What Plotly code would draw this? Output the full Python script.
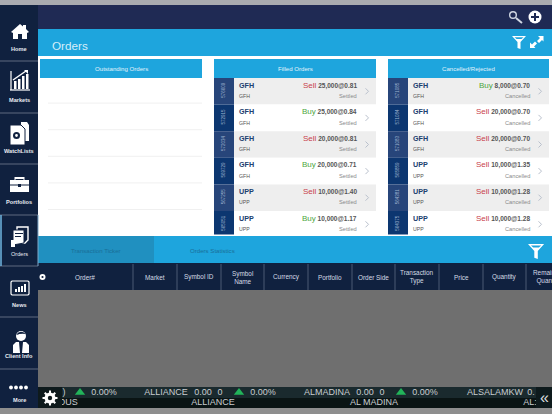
#!/bin/python3
import plotly.graph_objects as go

FONT = "Liberation Sans"

# sidebar
nav_labels = ["Home", "Markets", "WatchLists", "Portfolios", "Orders", "News", "Client Info", "More"]
nav_dividers = [61, 113, 164, 215, 266, 317, 369]
nav_label_y = [49, 100, 151, 202, 254, 305, 356, 400]

# order lists
filled_ids = ["576609", "572915", "572034", "569729", "567255", "565051"]
filled_symbols = ["GFH", "GFH", "GFH", "GFH", "UPP", "UPP"]
filled_sides = ["Sell", "Buy", "Sell", "Buy", "Sell", "Buy"]
filled_deals = ["25,000@0.81", "25,000@0.84", "20,000@0.81", "20,000@0.71", "10,000@1.40", "10,000@1.17"]

cancelled_ids = ["571085", "571084", "571083", "565859", "564381", "564375"]
cancelled_symbols = ["GFH", "GFH", "GFH", "UPP", "UPP", "UPP"]
cancelled_sides = ["Buy", "Sell", "Sell", "Sell", "Sell", "Sell"]
cancelled_deals = ["8,000@0.70", "20,000@0.70", "20,000@0.70", "10,000@1.35", "10,000@1.28", "10,000@1.28"]

# table header
columns = ["Order#", "Market", "Symbol ID", "Symbol<br>Name", "Currency", "Portfolio",
           "Order Side", "Transaction<br>Type", "Price", "Quantity", "Remaining<br>Quantity"]
column_edges = [38, 133, 177, 221, 264, 308, 352, 395, 439, 483, 526, 570]

# ticker
ticker_top = [(64, ")"), (104, "0.00%"), (166, "ALLIANCE"), (203, "0.00"), (220, "0"), (263, "0.00%"),
              (327, "ALMADINA"), (365, "0.00"), (382, "0"), (425, "0.00%"), (495, "ALSALAMKW"), (531, "0.")]
ticker_bottom = [(68, "OUS"), (213, "ALLIANCE"), (374, "AL MADINA"), (530, "AL:")]
ticker_arrows = [80, 239, 401]

NAVY = "#10213f"
BLUE = "#1ea5dd"
CLEAR = "rgba(0,0,0,0)"
ROW_TOP = 78
ROW_H = 26.6

shapes = []
annotations = []


def rect(x0, y0, x1, y1, color, layer="below"):
    shapes.append(dict(type="rect", x0=x0, y0=y0, x1=x1, y1=y1, fillcolor=color,
                       line_width=0, layer=layer))


def line(x0, y0, x1, y1, color, width=1, layer="below"):
    shapes.append(dict(type="line", x0=x0, y0=y0, x1=x1, y1=y1, layer=layer,
                       line=dict(color=color, width=width)))


def path(d, fill="#ffffff", stroke=None, width=0, layer="below"):
    shapes.append(dict(type="path", path=d, fillcolor=fill, layer=layer,
                       line=dict(color=stroke or CLEAR, width=width)))


def poly(ox, oy, pts, **kw):
    d = "M" + " L".join(f"{ox + a:.1f},{oy + b:.1f}" for a, b in pts) + " Z"
    path(d, **kw)


def circle(cx, cy, r, color, layer="below"):
    shapes.append(dict(type="circle", x0=cx - r, y0=cy - r, x1=cx + r, y1=cy + r,
                       fillcolor=color, line_width=0, layer=layer))


def text(x, y, s, size=7, color="#ffffff", anchor="center", angle=0, weight=None):
    font = dict(family=FONT, size=size, color=color)
    if weight:
        font["weight"] = weight
    annotations.append(dict(x=x, y=y, text=s, showarrow=False, xanchor=anchor, yanchor="middle",
                            textangle=angle, align="center", font=font))


# page bands
rect(0, 0, 552, 414, "#ffffff")
rect(0, 0, 552, 5, "#a9abb0")
rect(38, 5, 552, 29, "#1f2a54")
rect(38, 29, 552, 56, BLUE)
rect(38, 236, 552, 263, BLUE)
rect(38, 236, 154, 263, "#2090c0")
rect(38, 263, 552, 290, NAVY)
rect(38, 290, 552, 387, "#6f6f6f")
rect(38, 387, 552, 398, "#1a2a2e")
rect(38, 398, 552, 408, "#0a1414")
rect(0, 408, 552, 414, "#8e8e8e")
rect(0, 5, 38, 408, NAVY)
for y in nav_dividers:
    line(0, y, 38, y, "#5f6b80", 1)
line(38, 215, 38, 266, "#7fa8c8", 1)
line(1, 215, 1, 266, "#6fb6e0", 1.5)

for label, y in zip(nav_labels, nav_label_y):
    text(19, y, label, size=5.6, color="#e8ecf2", weight="bold" if label != "Orders" else None)

# sidebar icons, roughly traced
poly(11, 23, [(0, 9), (9, 1), (12, 3.5), (12, 2), (15, 2), (15, 6), (18, 9), (16, 10), (16, 16), (11, 16),
              (11, 11), (7, 11), (7, 16), (2, 16), (2, 10)])
line(11, 71, 11, 90, "#ffffff", 1.2)
line(10, 90, 30, 90, "#ffffff", 1.2)
for bx, bh in zip([14, 18, 22, 26], [8, 10, 13, 15]):
    rect(bx, 89 - bh, bx + 2.5, 89, "#ffffff")
line(13, 80, 26, 71, "#ffffff", 1.5)
poly(24, 70, [(0, 0), (4, 0), (4, 4)])
poly(21, 122, [(0, 0), (6, 0), (8, 3), (8, 19), (0, 19)], fill="#ffffff")
poly(10, 125, [(0, 0), (11, 0), (15, 4), (15, 20), (0, 20)], fill="#ffffff", stroke=NAVY, width=1)
circle(16.5, 135.5, 3.5, NAVY)
circle(16.5, 135.5, 1.4, "#ffffff")
rect(10, 180, 29, 192, "#ffffff")
rect(15, 177, 24, 179, "#ffffff")
line(15, 177, 15, 180, "#ffffff", 1)
line(24, 177, 24, 180, "#ffffff", 1)
line(10, 185, 29, 185, NAVY, 1)
rect(18, 184, 21, 187, NAVY)
poly(14, 227, [(3, 0), (14, 0), (14, 13), (11, 16), (3, 16)], fill=CLEAR, stroke="#ffffff", width=1.4)
poly(11, 230, [(2, 0), (13, 0), (13, 13), (2, 15)], fill="#ffffff", stroke=NAVY, width=1)
rect(15, 233, 23, 234, NAVY)
rect(15, 236, 21, 237, NAVY)
rect(11, 240, 15, 247, "#ffffff")
poly(11, 281, [(1, 0), (17, 0), (18, 1), (18, 13), (17, 14), (1, 14), (0, 13), (0, 1)], fill=CLEAR,
     stroke="#ffffff", width=1.2)
for bx, bh in zip([15, 18, 21, 24], [3, 5, 6, 8]):
    rect(bx, 292 - bh, bx + 2, 292, "#ffffff")
circle(21, 336, 5, "#ffffff")
path("M16,335 Q20,329 26,334 Q21,333 16,335 Z", fill=NAVY)
poly(13, 342, [(3, 0), (13, 0), (16, 3), (16, 11), (0, 11), (0, 3)])
poly(19, 342, [(0, 0), (4, 0), (3, 11), (1, 11)], fill=NAVY)
for cx in [11, 16, 21, 26]:
    circle(cx, 387.5, 1.9, "#ffffff")

# top right icons
circle(513, 15, 4, "#cfd6e2")
circle(513, 15, 2.6, "#1f2a54")
line(516, 18, 522, 23, "#cfd6e2", 2)
circle(535, 17, 6.5, "#ffffff")
rect(531, 16, 539, 18, "#1f2a54")
rect(534, 13, 536, 21, "#1f2a54")


def funnel(ox, oy, s=1.0):
    pts = [(0, 0), (14, 0), (8.5, 6), (8.5, 13), (5.5, 12), (5.5, 6)]
    poly(ox, oy, [(a * s, b * s) for a, b in pts])
    poly(ox, oy, [(a * s, b * s) for a, b in [(2.5, 1.2), (11.5, 1.2), (9.5, 3), (4.5, 3)]], fill=BLUE)


funnel(512, 36)
expand_up = [(8, 0), (13.5, 0), (13.5, 5.5), (12, 4), (9, 7), (7, 5), (10, 2)]
expand_down = [(0, 6.5), (0, 12), (5.5, 12), (4, 10.5), (7, 7.5), (5, 5.5), (2, 8.5)]
poly(530, 36, expand_up)
poly(530, 36, expand_down)
funnel(528, 244, 1.15)

text(49.5, 45, "Orders", size=11.7, color="#d6eefa", anchor="left")

# section headers
for x0, x1, title in [(40, 202, "Outstanding Orders"), (214, 376, "Filled Orders"),
                      (388, 549, "Cancelled/Rejected")]:
    rect(x0, 59, x1, 78, BLUE)
    text((x0 + x1) / 2, 68, title, size=6.1, color="#e2f2fb")

# outstanding rows are empty, only separators
for i in range(1, 6):
    line(48, ROW_TOP + i * ROW_H - 1.5, 202, ROW_TOP + i * ROW_H - 1.5, "#f0f0f0", 1)


def order_list(x0, x1, ids, symbols, sides, deals, status):
    for i, oid in enumerate(ids):
        top = ROW_TOP + i * ROW_H
        bottom = min(top + ROW_H, 234.5)
        mid = top + ROW_H / 2
        rect(x0 + 20, top, x1, bottom, "#eeeeee" if i % 2 == 0 else "#ffffff")
        rect(x0, top, x0 + 20, bottom, "#27457a" if i % 2 == 0 else "#0c3670")
        text(x0 + 9.5, mid - 1, oid, size=4.5, color="#9fb2cf", angle=-90)
        text(x0 + 22.5, top + 7, symbols[i], size=7.2, color="#20406f", anchor="left", weight="bold")
        text(x0 + 22.5, top + 18, symbols[i], size=5.2, color="#555555", anchor="left")
        side_color = "#c8414b" if sides[i] == "Sell" else "#4da63c"
        text(x1 - 17.5, top + 7,
             f"<span style='color:{side_color};font-size:8px;font-weight:normal'>{sides[i]}</span> {deals[i]}",
             size=6.5, color="#555555", anchor="right", weight="bold")
        text(x1 - 17.5, top + 18, status, size=5.7, color="#8a8a8a", anchor="right")
        mx = x1 - 9
        shapes.append(dict(type="path", path=f"M{mx - 1.5},{mid - 3} L{mx + 1.5},{mid} L{mx - 1.5},{mid + 3}",
                           layer="below", line=dict(color="#b9c0cc", width=1)))


order_list(214, 376, filled_ids, filled_symbols, filled_sides, filled_deals, "Settled")
order_list(388, 549, cancelled_ids, cancelled_symbols, cancelled_sides, cancelled_deals, "Cancelled")

# tabs
text(96, 250, "Transaction Ticker", size=6.1, color="#1a6f98")
text(212, 250, "Orders Statistics", size=6.1, color="#1a6f98")

# table header
for edge in column_edges[1:-1]:
    line(edge, 264, edge, 290, "#4a5a74", 1)
for i, col in enumerate(columns):
    cx = (column_edges[i] + column_edges[i + 1]) / 2
    if i == 0:
        cx = 85
    text(cx, 277, col, size=6.4, color="#d5dbe5")
# table settings gear
circle(42.5, 277, 3, "#ffffff")
circle(42.5, 277, 1.1, NAVY)

# ticker goes under the gear and arrow boxes
traces = [
    go.Scatter(x=[p[0] for p in ticker_top], y=[392.5] * len(ticker_top), mode="text",
               text=[p[1] for p in ticker_top], textposition="middle center",
               textfont=dict(family=FONT, size=9, color="#c9cdd0"), hoverinfo="skip"),
    go.Scatter(x=[p[0] for p in ticker_bottom], y=[403] * len(ticker_bottom), mode="text",
               text=[p[1] for p in ticker_bottom], textposition="middle center",
               textfont=dict(family=FONT, size=9, color="#c9cdd0"), hoverinfo="skip"),
    go.Scatter(x=ticker_arrows, y=[392.5] * len(ticker_arrows), mode="markers",
               marker=dict(symbol="triangle-up", size=9, color="#22b45a"), hoverinfo="skip"),
]

rect(38, 387, 62, 408, "#0e1a1c", layer="above")
rect(536, 387, 552, 408, "#0e1a1c", layer="above")
for a, b, c, d in [(50, 390.5, 50, 405.5), (42.5, 398, 57.5, 398), (44.7, 392.7, 55.3, 403.3), (44.7, 403.3, 55.3, 392.7)]:
    line(a, b, c, d, "#ffffff", 2, layer="above")
circle(50, 398, 5.5, "#ffffff", layer="above")
circle(50, 398, 2.2, "#0e1a1c", layer="above")
text(544, 397, "«", size=16, color="#d8dcdf")

fig = go.Figure(traces)
fig.update_layout(
    width=552, height=414, autosize=False, showlegend=False,
    margin=dict(l=0, r=0, t=0, b=0), paper_bgcolor="#ffffff", plot_bgcolor="#ffffff",
    xaxis=dict(range=[0, 552], visible=False, fixedrange=True),
    yaxis=dict(range=[414, 0], visible=False, fixedrange=True),
    shapes=shapes, annotations=annotations,
)

fig.write_html("out.html", config={"displayModeBar": False},
               post_script="document.body.style.margin='0';")
